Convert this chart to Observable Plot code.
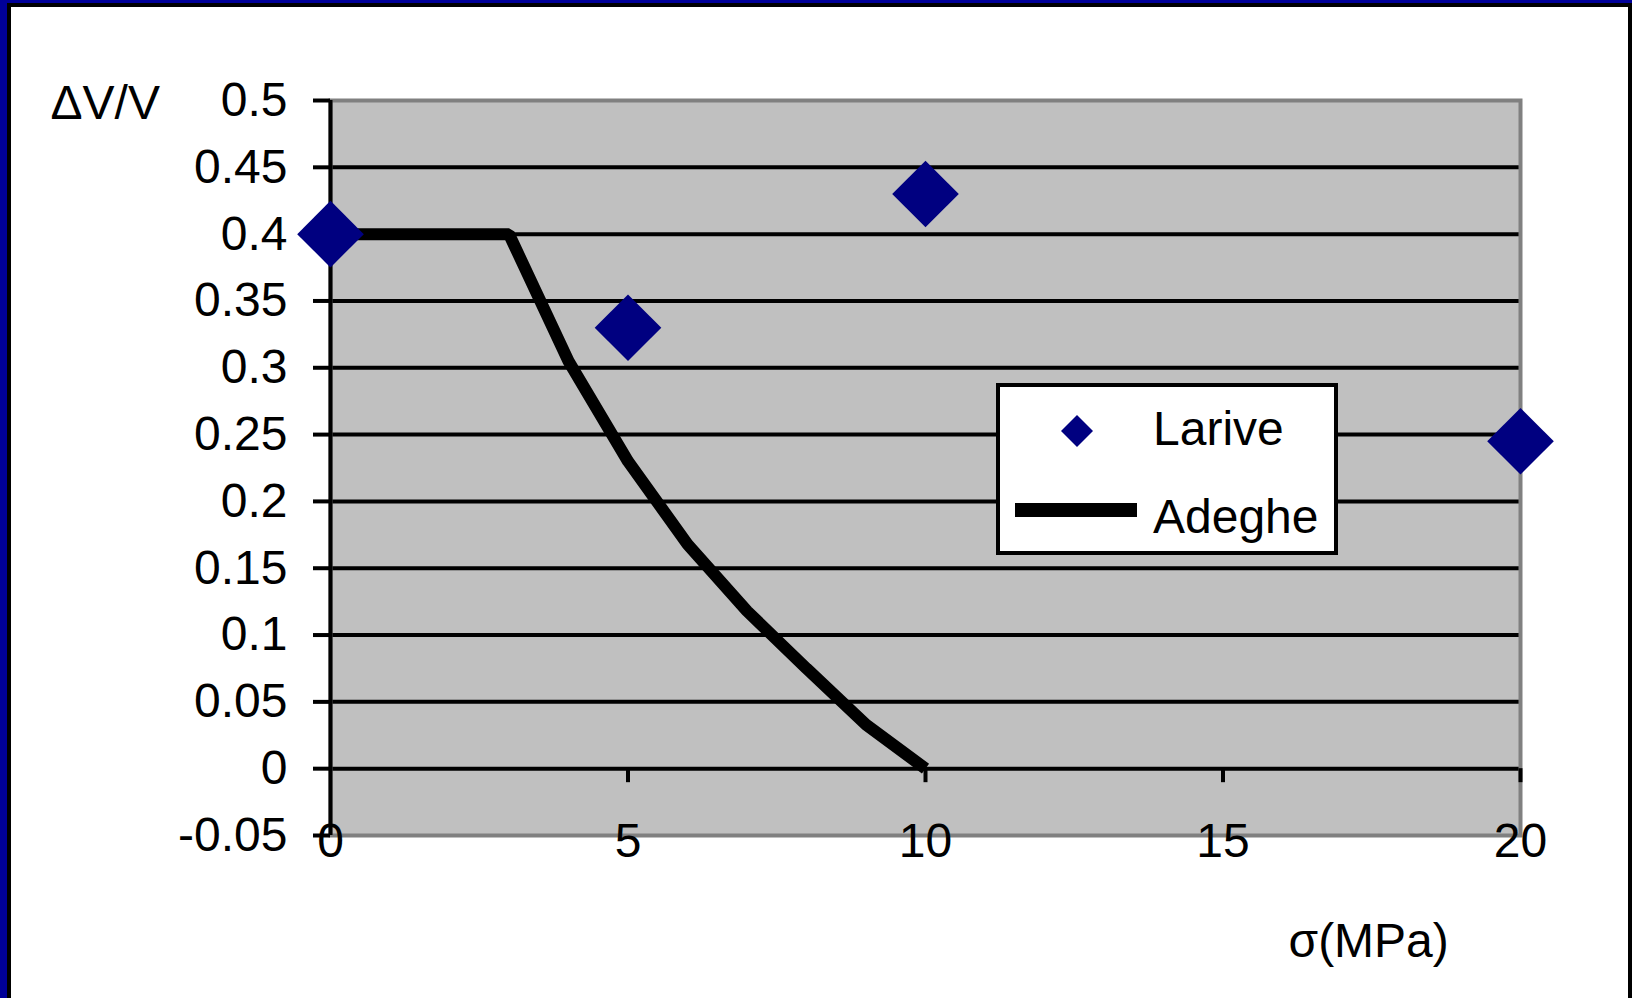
<!DOCTYPE html>
<html>
<head>
<meta charset="utf-8">
<script src="https://cdn.jsdelivr.net/npm/d3@7"></script>
<script src="https://cdn.jsdelivr.net/npm/@observablehq/plot@0.6"></script>
<style>
  body { margin: 0; background: #fff; }
  #wrap { position: relative; width: 1632px; height: 998px; overflow: hidden; font-family: "Liberation Sans", Arial, sans-serif; background: #fff; }
  #chart { position: absolute; left: 0; top: 0; }
  .bd { position: absolute; }
  #legend { position: absolute; left: 996px; top: 383px; }
</style>
</head>
<body>
<div id="wrap">
  <div id="chart"></div>
  <div class="bd" style="left:0;top:0;width:7px;height:998px;background:#000099"></div>
  <div class="bd" style="left:0;top:0;width:1632px;height:3px;background:#000099"></div>
  <div class="bd" style="left:7px;top:3px;width:4px;height:995px;background:#000"></div>
  <div class="bd" style="left:7px;top:3px;width:1625px;height:4px;background:#000"></div>
  <div class="bd" style="left:1628px;top:3px;width:4px;height:995px;background:#000"></div>
  <svg id="legend" width="342" height="172"></svg>
</div>
<script>
// ---- data ----
const lariveX = [0, 5, 10, 20];
const lariveY = [0.4, 0.33, 0.43, 0.245];
const adegheX = [0, 1, 2, 3, 4, 5, 6, 7, 8, 9, 10];
const adegheY = [0.4, 0.4, 0.4, 0.4, 0.305, 0.23, 0.168, 0.118, 0.075, 0.033, 0];
const yTicks = [-0.05, 0, 0.05, 0.1, 0.15, 0.2, 0.25, 0.3, 0.35, 0.4, 0.45, 0.5];
const yTickLabels = ["-0.05", "0", "0.05", "0.1", "0.15", "0.2", "0.25", "0.3", "0.35", "0.4", "0.45", "0.5"];
const yGrid = [0, 0.05, 0.1, 0.15, 0.2, 0.25, 0.3, 0.35, 0.4, 0.45];
const xTicks = [0, 5, 10, 15, 20];
const xTickLabels = ["0", "5", "10", "15", "20"];
const xTickMarks = [5, 10, 15, 20];
const seriesNames = ["Larive", "Adeghe"];
const yLabel = "\u0394V/V";
const xLabel = "\u03c3(MPa)";

const larive = lariveX.map((x, i) => ({x, y: lariveY[i]}));
const adeghe = adegheX.map((x, i) => ({x, y: adegheY[i]}));

const FONT = "\"Liberation Sans\", Arial, sans-serif";
const navy = "#000080";

const chart = Plot.plot({
  width: 1632,
  height: 998,
  marginLeft: 330,
  marginRight: 112,
  marginTop: 100,
  marginBottom: 163,
  style: {fontFamily: FONT, background: "transparent", color: "#000"},
  x: {domain: [0, 20], axis: null},
  y: {domain: [-0.05, 0.5], axis: null},
  marks: [
    Plot.frame({fill: "#c0c0c0", stroke: null}),
    Plot.ruleY(yGrid, {stroke: "#000", strokeWidth: 4}),
    Plot.frame({stroke: "#808080", strokeWidth: 4, fill: null}),
    Plot.ruleX([0], {stroke: "#000", strokeWidth: 4}),
    Plot.axisY({ticks: yTicks, tickSize: 17, tickPadding: 26, fontSize: 48, strokeWidth: 4, label: null,
      tickFormat: d => yTickLabels[yTicks.indexOf(d)]}),
    Plot.ruleX(xTickMarks, {x: d => d, y1: 0, y2: 0, insetBottom: -14, stroke: "#000", strokeWidth: 4}),
    Plot.axisX({ticks: xTicks, tickSize: 0, tickPadding: -13, fontSize: 48, label: null,
      tickFormat: d => xTickLabels[xTicks.indexOf(d)]}),
    Plot.line(adeghe, {x: "x", y: "y", stroke: "#000", strokeWidth: 12, strokeLinejoin: "miter", strokeLinecap: "butt"}),
    Plot.dot(larive, {x: "x", y: "y", symbol: "diamond2", r: 30, fill: navy, stroke: null}),
    Plot.text([yLabel], {frameAnchor: "top-left", text: d => d, textAnchor: "start", lineAnchor: "middle", dx: -280, dy: 3, fontSize: 48}),
    Plot.text([xLabel], {frameAnchor: "bottom-right", text: d => d, textAnchor: "start", lineAnchor: "middle", dx: -232, dy: 106, fontSize: 48})
  ]
});
document.getElementById("chart").appendChild(chart);

// ---- legend ----
const lg = d3.select("#legend");
lg.append("rect").attr("x", 2).attr("y", 2).attr("width", 338).attr("height", 168)
  .attr("fill", "#fff").attr("stroke", "#000").attr("stroke-width", 4);
lg.append("path").attr("d", d3.symbol(d3.symbolDiamond2, Math.PI * 14.4 * 14.4)())
  .attr("transform", "translate(81,48)").attr("fill", navy);
lg.append("line").attr("x1", 19).attr("x2", 141).attr("y1", 127).attr("y2", 127)
  .attr("stroke", "#000").attr("stroke-width", 14);
lg.selectAll("text.lab").data(seriesNames).join("text").attr("class", "lab")
  .attr("x", 157).attr("y", (d, i) => i === 0 ? 62 : 150)
  .attr("font-family", FONT).attr("font-size", 48).attr("fill", "#000").text(d => d);
</script>
</body>
</html>
